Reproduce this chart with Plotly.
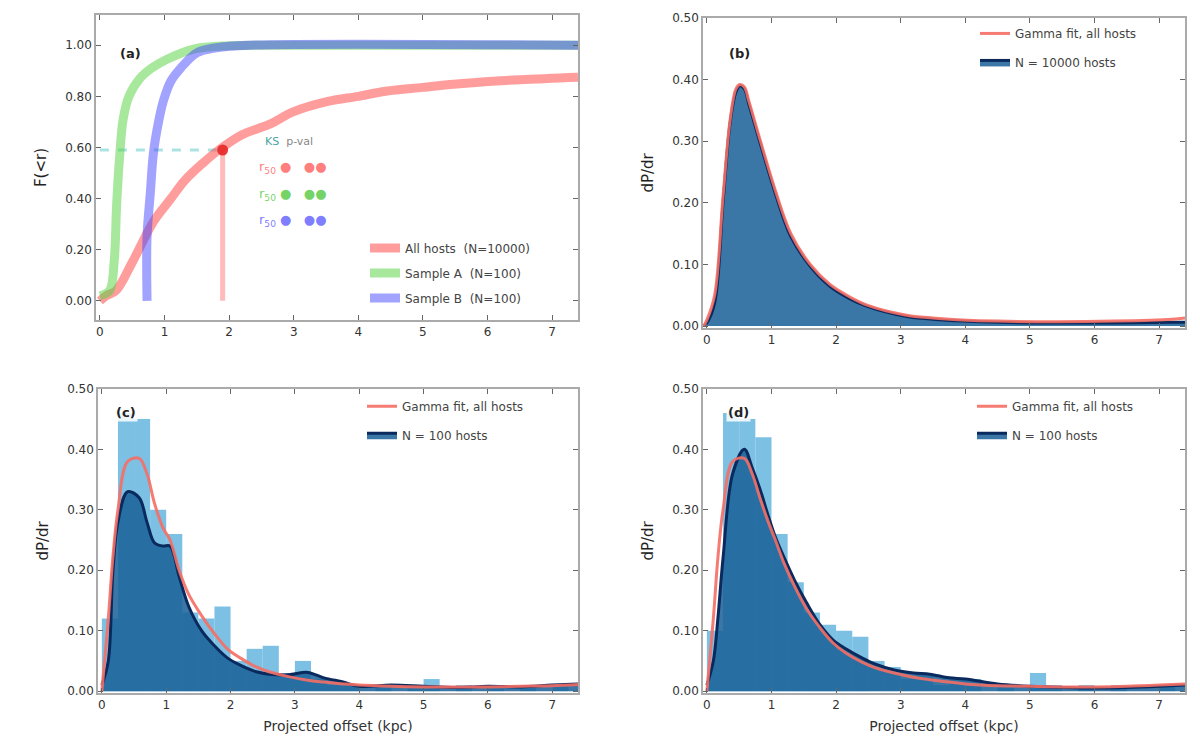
import plotly.graph_objects as go

# ---- panel (a): cumulative distributions ----
red_x = [0, 0.1, 0.25, 0.5, 0.83, 1.1, 1.31, 1.6, 1.84, 2.2, 2.62, 3.0, 3.53, 4.0, 4.42, 5.0, 5.61, 6.5, 7.4]
red_y = [0.0, 0.02, 0.04, 0.15, 0.31, 0.40, 0.47, 0.54, 0.59, 0.65, 0.69, 0.74, 0.78, 0.80, 0.82, 0.835, 0.85, 0.865, 0.875]
green_x = [0, 0.15, 0.22, 0.26, 0.31, 0.36, 0.45, 0.62, 0.8, 1.04, 1.45, 2.0, 3.0, 7.4]
green_y = [0.02, 0.04, 0.15, 0.38, 0.58, 0.71, 0.80, 0.87, 0.91, 0.945, 0.985, 0.998, 1.0, 1.0]
blue_x = [0.73, 0.73, 0.78, 0.83, 0.9, 0.98, 1.1, 1.25, 1.5, 1.8, 2.3, 7.4]
blue_y = [0.0, 0.25, 0.42, 0.58, 0.69, 0.78, 0.86, 0.91, 0.97, 0.99, 1.0, 1.0]
cut_x = 1.9
cut_level = 0.59
cdf_names = ["All hosts  (N=10000)", "Sample A  (N=100)", "Sample B  (N=100)"]

# ---- panel (b): model PDF ----
b_x = [-0.05, 0.0, 0.12, 0.25, 0.36, 0.45, 0.51, 0.58, 0.65, 0.83, 1.06, 1.3, 1.6, 1.9, 2.2, 2.48,
       3.07, 3.5, 3.95, 4.5, 5.4, 6.3, 7.2, 7.4]
b_kde = [0, 0.005, 0.037, 0.2, 0.33, 0.38, 0.39, 0.385, 0.36, 0.295, 0.215, 0.145, 0.097, 0.065, 0.045,
         0.032, 0.016, 0.011, 0.008, 0.006, 0.005, 0.005, 0.006, 0.006]
b_fit = [0, 0.01, 0.05, 0.21, 0.335, 0.385, 0.392, 0.388, 0.365, 0.3, 0.22, 0.15, 0.1, 0.068, 0.048,
         0.034, 0.018, 0.013, 0.01, 0.008, 0.007, 0.008, 0.011, 0.013]

# ---- panels (c), (d): samples ----
bin_left = [i * 0.25 for i in range(30)]
c_hist = [0.12, 0.46, 0.45, 0.30, 0.26, 0.13, 0.12, 0.14, 0.05, 0.07, 0.075, 0.03, 0.05, 0.02, 0.01,
          0.01, 0.0, 0.01, 0.0, 0.01, 0.02, 0.0, 0.01, 0.0, 0.01, 0.0, 0.01, 0.0, 0.01, 0.0]
d_hist = [0.10, 0.46, 0.45, 0.42, 0.26, 0.18, 0.13, 0.11, 0.10, 0.09, 0.05, 0.04, 0.02, 0.03, 0.01,
          0.02, 0.02, 0.0, 0.01, 0.0, 0.03, 0.01, 0.0, 0.01, 0.0, 0.01, 0.0, 0.0, 0.01, 0.0]
kde_x = [0, 0.1, 0.17, 0.25, 0.4, 0.58, 0.7, 0.82, 0.95, 1.06, 1.2, 1.35, 1.55, 1.75, 1.95, 2.15,
         2.4, 2.6, 2.9, 3.2, 3.45, 3.75, 4.0, 4.5, 5.0, 5.5, 6.0, 6.5, 7.0, 7.4]
c_kde = [0.01, 0.05, 0.195, 0.28, 0.33, 0.32, 0.28, 0.245, 0.24, 0.24, 0.19, 0.14, 0.1, 0.075, 0.055,
         0.043, 0.032, 0.028, 0.027, 0.031, 0.022, 0.015, 0.008, 0.01, 0.008, 0.006, 0.008, 0.007, 0.01, 0.012]
c_fit = [0.0, 0.12, 0.22, 0.3, 0.38, 0.385, 0.36, 0.31, 0.27, 0.25, 0.2, 0.16, 0.125, 0.095, 0.07,
         0.055, 0.04, 0.032, 0.024, 0.018, 0.015, 0.012, 0.01, 0.008, 0.007, 0.007, 0.007, 0.008, 0.009, 0.011]
d_kde = [0.01, 0.05, 0.12, 0.22, 0.36, 0.40, 0.37, 0.335, 0.29, 0.255, 0.22, 0.185, 0.145, 0.11, 0.085,
         0.07, 0.055, 0.045, 0.035, 0.03, 0.028, 0.022, 0.02, 0.012, 0.008, 0.006, 0.005, 0.006, 0.008, 0.01]
d_fit = [0.0, 0.12, 0.22, 0.3, 0.38, 0.385, 0.36, 0.32, 0.28, 0.25, 0.21, 0.175, 0.135, 0.105, 0.08,
         0.063, 0.048, 0.039, 0.03, 0.023, 0.019, 0.015, 0.012, 0.009, 0.008, 0.007, 0.007, 0.008, 0.01, 0.012]

x_ticks = [0, 1, 2, 3, 4, 5, 6, 7]

RED = "rgba(255,60,60,0.5)"
GREEN = "rgba(80,210,60,0.5)"
BLUE = "rgba(70,70,255,0.5)"
FIT = "rgba(245,110,100,0.9)"
HIST = "rgba(110,185,225,0.9)"
KDE_FILL = "rgba(25,95,150,0.85)"
KDE_LINE = "#0a2a5e"

# page has an 8px body margin, so the figure is 1192x748 and sits at (8, 8)
W = 1192.0
H = 748.0
OFF = 8


def px(x):
    return (x - OFF) / W


def py(y):
    return 1 - (y - OFF) / H


fig = go.Figure()

# panel a
fig.add_trace(go.Scatter(x=[0, cut_x], y=[cut_level, cut_level], mode="lines",
                         line=dict(color="rgba(150,220,220,0.8)", width=3, dash="dash"),
                         showlegend=False, xaxis="x", yaxis="y"))
fig.add_trace(go.Scatter(x=[cut_x, cut_x], y=[0, cut_level], mode="lines",
                         line=dict(color="rgba(255,120,120,0.5)", width=5),
                         showlegend=False, xaxis="x", yaxis="y"))
for k, (xs, ys, col, nm) in enumerate([(red_x, red_y, RED, cdf_names[0]), (green_x, green_y, GREEN, cdf_names[1]),
                                       (blue_x, blue_y, BLUE, cdf_names[2])]):
    fig.add_trace(go.Scatter(x=xs, y=ys, mode="lines", line=dict(color=col, width=9, shape="spline"),
                             name=nm, legend="legend", legendgroup="a%d" % k, xaxis="x", yaxis="y"))
fig.add_trace(go.Scatter(x=[cut_x], y=[cut_level], mode="markers",
                         marker=dict(color="rgba(230,40,40,0.9)", size=11),
                         showlegend=False, xaxis="x", yaxis="y"))

# panel b
fig.add_trace(go.Scatter(x=b_x, y=b_kde, mode="lines", fill="tozeroy", fillcolor=KDE_FILL,
                         line=dict(color=KDE_LINE, width=3, shape="spline"), name="N = 10000 hosts",
                         legend="legend2", legendgroup="b2", legendrank=2, xaxis="x2", yaxis="y2"))
fig.add_trace(go.Scatter(x=b_x, y=b_fit, mode="lines", line=dict(color=FIT, width=3, shape="spline"),
                         name="Gamma fit, all hosts", legend="legend2", legendgroup="b1", legendrank=1,
                         xaxis="x2", yaxis="y2"))

# panels c, d
for hist, kde, fit, xa, ya, lg in [(c_hist, c_kde, c_fit, "x3", "y3", "legend3"),
                                   (d_hist, d_kde, d_fit, "x4", "y4", "legend4")]:
    fig.add_trace(go.Bar(x=bin_left, y=hist, width=0.25, offset=0, marker=dict(color=HIST, line_width=0),
                         showlegend=False, xaxis=xa, yaxis=ya))
    fig.add_trace(go.Scatter(x=kde_x, y=kde, mode="lines", fill="tozeroy", fillcolor=KDE_FILL,
                             line=dict(color=KDE_LINE, width=3, shape="spline"), name="N = 100 hosts",
                             legend=lg, legendgroup=lg + "k", legendrank=2, xaxis=xa, yaxis=ya))
    fig.add_trace(go.Scatter(x=kde_x, y=fit, mode="lines", line=dict(color=FIT, width=3, shape="spline"),
                             name="Gamma fit, all hosts", legend=lg, legendgroup=lg + "f", legendrank=1,
                             xaxis=xa, yaxis=ya))

axis_style = dict(showline=True, linecolor="#aaaaaa", linewidth=1.5, mirror="allticks", ticks="inside",
                  ticklen=5, tickcolor="#666", showgrid=False, zeroline=False,
                  tickfont=dict(family="DejaVu Sans", size=12, color="#333"))

x_common = dict(axis_style, range=[-0.06, 7.4], tickvals=x_ticks)
xlabel = dict(text="Projected offset (kpc)", font=dict(family="DejaVu Sans", size=14, color="#333"), standoff=10)
ytitle_font = dict(family="DejaVu Sans", size=15, color="#222")
pdf_ticks = [0, 0.1, 0.2, 0.3, 0.4, 0.5]
legend_font = dict(family="DejaVu Sans", size=12, color="#444")
leg_common = dict(xanchor="left", yanchor="top", bgcolor="rgba(255,255,255,0)", font=legend_font,
                  itemwidth=30)

fig.update_layout(
    width=int(W), height=int(H), margin=dict(l=0, r=0, t=0, b=0),
    paper_bgcolor="white", plot_bgcolor="white", barmode="overlay",
    xaxis=dict(x_common, domain=[px(96), px(578)], anchor="y"),
    yaxis=dict(axis_style, domain=[py(318), py(8)], range=[-0.075, 1.118],
               tickvals=[0, 0.2, 0.4, 0.6, 0.8, 1.0], tickformat=".2f", anchor="x",
               title=dict(text="F(&lt;r)", font=ytitle_font)),
    xaxis2=dict(x_common, domain=[px(703), px(1185)], anchor="y2"),
    yaxis2=dict(axis_style, domain=[py(326), py(11)], range=[-0.003, 0.5],
                tickvals=pdf_ticks, tickformat=".2f", anchor="x2",
                title=dict(text="dP/dr", font=ytitle_font)),
    xaxis3=dict(x_common, domain=[px(98), px(578)], anchor="y3", title=xlabel),
    yaxis3=dict(axis_style, domain=[py(697), py(388)], range=[-0.003, 0.5],
                tickvals=pdf_ticks, tickformat=".2f", anchor="x3",
                title=dict(text="dP/dr", font=ytitle_font)),
    xaxis4=dict(x_common, domain=[px(703), px(1185)], anchor="y4", title=xlabel),
    yaxis4=dict(axis_style, domain=[py(697), py(388)], range=[-0.003, 0.5],
                tickvals=pdf_ticks, tickformat=".2f", anchor="x4",
                title=dict(text="dP/dr", font=ytitle_font)),
    legend=dict(leg_common, x=px(365), y=py(230), tracegroupgap=6),
    legend2=dict(leg_common, x=px(975), y=py(12), tracegroupgap=10),
    legend3=dict(leg_common, x=px(362), y=py(391), tracegroupgap=10),
    legend4=dict(leg_common, x=px(972), y=py(391), tracegroupgap=10),
)

# panel letters
for lbl, lx, ly in [("(a)", 130, 47), ("(b)", 740, 47), ("(c)", 126, 412), ("(d)", 738, 412)]:
    fig.add_annotation(text="<b>%s</b>" % lbl, x=px(lx), y=py(ly), xref="paper", yref="paper",
                       xanchor="center", yanchor="middle", showarrow=False,
                       font=dict(family="DejaVu Sans", size=13, color="#222"),
                       bgcolor="rgba(255,255,255,0.85)")

# small table in panel a
table_rows = [("r<sub>50</sub>", "rgba(255,90,90,0.8)"), ("r<sub>50</sub>", "rgba(80,200,60,0.8)"),
              ("r<sub>50</sub>", "rgba(90,90,255,0.8)")]
fig.add_annotation(text="<span style='color:#4aa5a5'>KS</span>  <span style='color:#888'>p-val</span>",
                   x=px(263), y=py(137), xref="paper", yref="paper", xanchor="left", yanchor="middle",
                   showarrow=False, font=dict(family="DejaVu Sans", size=11))
for i, (txt, col) in enumerate(table_rows):
    fig.add_annotation(text="<span style='color:%s'>%s</span> <span style='color:%s'>●   ●●</span>"
                       % (col, txt, col), x=px(257), y=py(163 + 27 * i), xref="paper", yref="paper",
                       xanchor="left", yanchor="middle", showarrow=False,
                       font=dict(family="DejaVu Sans", size=13))

fig.write_html("out.html")
